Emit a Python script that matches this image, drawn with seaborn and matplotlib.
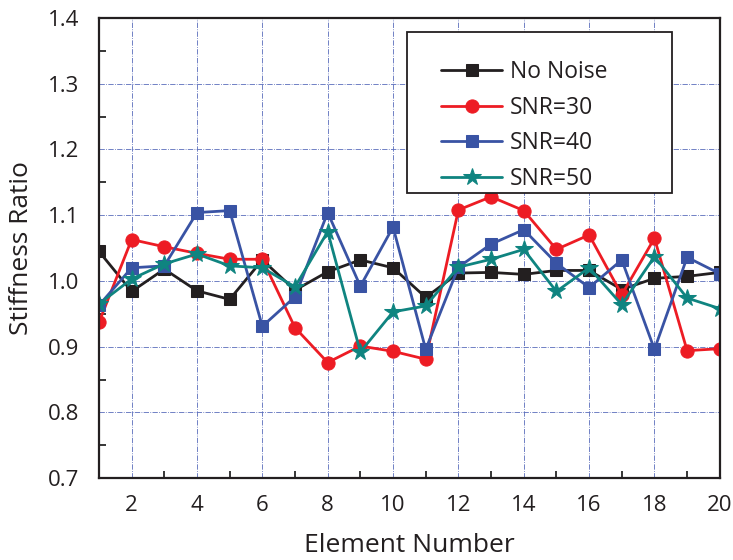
import numpy as np
import pandas as pd
import seaborn as sns
from matplotlib import pyplot as plt
from matplotlib.patches import Rectangle
from matplotlib.ticker import MultipleLocator

elements = list(range(1, 21))
no_noise = [1.045, 0.984, 1.018, 0.985, 0.972, 1.032, 0.986, 1.014, 1.032, 1.020,
            0.975, 1.012, 1.013, 1.010, 1.016, 1.016, 0.987, 1.004, 1.007, 1.013]
snr30 = [0.937, 1.063, 1.052, 1.042, 1.033, 1.033, 0.929, 0.876, 0.901, 0.893,
         0.881, 1.108, 1.128, 1.107, 1.048, 1.070, 0.979, 1.065, 0.894, 0.897]
snr40 = [0.963, 1.020, 1.023, 1.104, 1.107, 0.931, 0.976, 1.104, 0.992, 1.082,
         0.896, 1.021, 1.056, 1.078, 1.027, 0.990, 1.032, 0.896, 1.036, 1.011]
snr50 = [0.965, 1.003, 1.026, 1.041, 1.023, 1.020, 0.991, 1.075, 0.892, 0.953,
         0.962, 1.021, 1.033, 1.048, 0.984, 1.020, 0.964, 1.037, 0.974, 0.958]

series = [
    ("No Noise", no_noise, "#231f20", "s", 9),
    ("SNR=30", snr30, "#ed1c24", "o", 9.5),
    ("SNR=40", snr40, "#3953a4", "s", 9),
    ("SNR=50", snr50, "#0f8480", "*", 13),
]

sns.set_style("white")
plt.rcParams["font.family"] = ["Open Sans", "DejaVu Sans"]

fig = plt.figure(figsize=(7.33, 5.6), dpi=100)
ax = fig.add_axes([0.135, 0.146, 0.847, 0.822])

for name, vals, color, marker, ms in series:
    df = pd.DataFrame({"Element": elements, "Ratio": vals})
    sns.lineplot(data=df, x="Element", y="Ratio", ax=ax, color=color, marker=marker,
                 markersize=ms, markeredgecolor=color, linewidth=2.0, label=name)

ax.set_xlim(1, 20)
ax.set_ylim(0.7, 1.4)
ax.xaxis.set_major_locator(MultipleLocator(2))
ax.xaxis.set_minor_locator(MultipleLocator(1))
ax.yaxis.set_major_locator(MultipleLocator(0.1))
ax.yaxis.set_minor_locator(MultipleLocator(0.05))
ax.yaxis.set_major_formatter(plt.FormatStrFormatter("%.1f"))

ax.grid(True, which="major", color="#5a6dbb", linestyle="-.", linewidth=0.6)
for s in ax.spines.values():
    s.set_color("#231f20")
    s.set_linewidth(1.6)

ax.tick_params(which="major", direction="inout", length=10, width=1.3, labelsize=16,
               colors="#231f20", top=False, right=False)
ax.tick_params(which="minor", direction="in", length=5, width=1.3, left=True, bottom=True)
ax.tick_params(axis="x", pad=7)
ax.tick_params(axis="y", pad=9)

ax.set_xlabel("Element Number", fontsize=19, color="#231f20", labelpad=12)
ax.set_ylabel("Stiffness Ratio", fontsize=19, color="#231f20", labelpad=10)

leg = ax.legend(loc="upper left", bbox_to_anchor=(0.551, 0.908), fontsize=16.5,
                frameon=False, handlelength=2.66, borderpad=0, borderaxespad=0,
                labelspacing=0.5, handletextpad=0.35)
for t in leg.get_texts():
    t.set_color("#231f20")
ax.add_patch(Rectangle((0.496, 0.620), 0.427, 0.350, transform=ax.transAxes,
                       facecolor="white", edgecolor="#231f20", linewidth=1.3, zorder=4.5))
leg.set_zorder(5)

fig.savefig("out.png", dpi=100)
